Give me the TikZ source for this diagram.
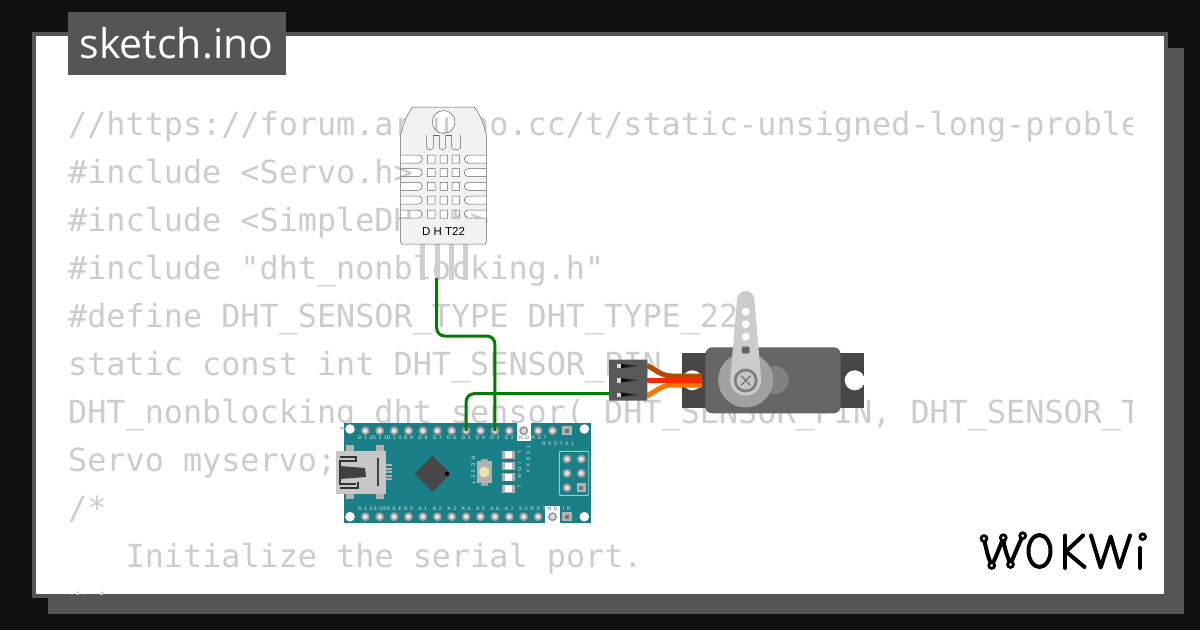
\documentclass[tikz,border=0pt]{standalone}
\usepackage{fontspec}
\setmainfont{Liberation Sans}
\newfontfamily\codefont{DejaVu Sans Mono}
\newfontfamily\titlefont{Open Sans}
\newfontfamily\silkfont[WordSpace=1.9]{Liberation Sans}
\usetikzlibrary{calc,shadings}
\definecolor{bgdark}{HTML}{111111}
\definecolor{panelgray}{HTML}{555555}
\definecolor{codegray}{HTML}{CCCCCC}
\definecolor{nanoteal}{HTML}{1A7F87}
\definecolor{wiregreen}{HTML}{007C00}
\tikzset{
  x=1pt,y=-1pt,
  codeline/.style={anchor=base west,inner sep=0pt,text=codegray,font=\codefont\fontsize{31.8}{32}\selectfont},
  wire/.style={draw=wiregreen,line width=3pt,rounded corners=8pt},
  dhtline/.style={draw=black!60,line width=0.5pt},
  silk/.style={inner sep=0pt,text=white!88!nanoteal,font=\silkfont\fontsize{5}{6}\selectfont},
  logo/.style={draw=black,line width=4pt,line cap=round,line join=round},
  logoring/.style={draw=black,line width=2.8pt,fill=white},
}
\newcommand{\nanopin}[2]{\fill[black!40] (#1,#2) circle[radius=4.5];\fill[black!12] (#1,#2) circle[radius=2.5];}
\begin{document}
\begin{tikzpicture}
\useasboundingbox (0,0) rectangle (1200,630);
\fill[bgdark] (0,0) rectangle (1200,630);
\fill[panelgray] (48,48) rectangle (1184,614);
\fill[panelgray] (32,32) rectangle (1168,598);
\fill[white] (36,36) rectangle (1164,594);
% code
\begin{scope}
\clip (36,36) rectangle (1132,594);
\node[codeline] (c1) at (68,135) {//https://forum.arduino.cc/t/static-unsigned-long-proble};
\node[codeline] (c2) at (68,183) {\#include <Servo.h>};
\node[codeline] (c3) at (68,231) {\#include <SimpleDHT.h>};
\node[codeline] (c4) at (68,279) {\#include "dht\_nonblocking.h"};
\node[codeline] (c5) at (68,327) {\#define DHT\_SENSOR\_TYPE DHT\_TYPE\_22};
\node[codeline] (c6) at (68,375) {static const int DHT\_SENSOR\_PIN = 2;};
\node[codeline] (c7) at (68,423) {DHT\_nonblocking dht\_sensor( DHT\_SENSOR\_PIN, DHT\_SENSOR\_T};
\node[codeline] (c8) at (68,471) {Servo myservo;};
\node[codeline] (c9) at (68,519) {/*};
\node[codeline] (c10) at (125.5,567) {Initialize the serial port.};
\node[codeline] (c11) at (68,615) {*/};
\end{scope}
% title
\fill[panelgray] (68,12) rectangle (286,75);
\node[inner sep=0pt,text=white,font=\titlefont\fontsize{41}{41}\selectfont,anchor=base] (title) at (176.5,58) {sketch.ino};
% DHT22 pins
\foreach \px in {422.5,437.5,451.5,465.5}{\fill[black!20,opacity=.9] (\px-2.5,243) rectangle (\px+2.5,280);}
% DHT22 body, its openings let the code show through
\path[dhtline,fill=black!5,even odd rule]
  (400.7,135) .. controls (403,124) and (408,112) .. (413,107) -- (474,107) .. controls (479,112) and (484,124) .. (486.3,135)
  -- (486.3,242.5) -- (485,244) -- (402,244) -- (400.7,242.5) -- cycle
  (443.6,110.6) arc[start angle=270,end angle=-90,radius=11.4]
  \foreach \ry in {159,172.7,186.3,200,214}{
    (400.7,\ry-4) -- (418.3,\ry-4) arc[start angle=-90,end angle=90,radius=4] -- (400.7,\ry+4) -- cycle
    (486.3,\ry-4) -- (468.3,\ry-4) arc[start angle=-90,end angle=-270,radius=4] -- (486.3,\ry+4) -- cycle
    (427.3,\ry-4) rectangle (435,\ry+4)
    (440,\ry-4) rectangle (447.7,\ry+4)
    (452,\ry-4) rectangle (459.7,\ry+4)
  };
\draw[dhtline,rounded corners=2pt] (426.7,135) -- (426.7,149.3) -- (433.3,149.3) -- (433.3,135);
\draw[dhtline,rounded corners=2pt] (439.3,135) -- (439.3,149.3) -- (445.7,149.3) -- (445.7,135);
\draw[dhtline,rounded corners=2pt] (451.7,135) -- (451.7,149.3) -- (460.7,149.3) -- (460.7,135);
\draw[dhtline] (433.3,135) -- (439.3,135) (445.7,135) -- (451.7,135);
\node[inner sep=0pt,text=black,font=\fontsize{11.5}{12}\selectfont] (dhtlabel) at (443.6,231.7) {D H T22};
% wires' ends
\coordinate (dhtsda) at (436.7,278);
\coordinate (nanoDfive) at (466.1,431);
\coordinate (nanoDthree) at (494.9,431);
\coordinate (servopwm) at (612,393.7);
% nano board
\fill[nanoteal] (344,423.3) rectangle (591,523.3);
\foreach \hx/\hy in {350/429,584.3/429,350/516.7,584.3/516.7}{\fill[white] (\hx,\hy) circle[radius=4.8];}
\fill[white] (517,423.3) rectangle (531,441);
\fill[white] (545.3,506) rectangle (560,523.3);
\foreach \i in {0,...,14}{
  \pgfmathsetmacro{\px}{365.3+14.4*\i}
  \ifnum\i=14
    \fill[black!30] (\px-4.6,426.1) rectangle (\px+4.6,435.3);
    \fill[black!55!white] (\px-2,428.7) rectangle (\px+2,432.7);
    \fill[black!30] (\px-4.6,512.1) rectangle (\px+4.6,521.3);
    \fill[black!55!white] (\px-2,514.7) rectangle (\px+2,518.7);
  \else
    \nanopin{\px}{430.7}
    \nanopin{\px}{516.7}
  \fi
}
\foreach \t/\lx in {D 1 2/365.3,D 1 1/379.7,D 1 0/394.1,D 9/408.5,D 8/422.9,D 7/437.3,D 6/451.7,D 5/466.1,D 4/480.5,D 3/494.9,D 2/509.3,R S T/539}{
  \node[silk] at (\lx,438.2) {\t};
}
\node[silk,text=nanoteal] (gndtop) at (524,438.2) {N D};
\node[silk] (rxzero) at (549.5,443.5) {R X 0};
\node[silk] (txone) at (567,443.5) {T X 1};
\foreach \t/\lx in {D 1 3/365.3,3 V3/379.7,R E F/394.1,A 0/408.5,A 1/422.9,A 2/437.3,A 3/451.7,A 4/466.1,A 5/480.5,A 6/494.9,A 7/509.3,5 V/523.7,R S T/538.1,I N/566.9}{
  \node[silk] at (\lx,508.7) {\t};
}
\node[silk,text=nanoteal] (gndbot) at (552.5,508.7) {N D};
% usb
\fill[black!30] (346,445) rectangle (354,451);
\fill[black!30] (375.5,445) rectangle (384,451);
\fill[black!30] (346,493) rectangle (354,499);
\fill[black!30] (375.5,493) rectangle (384,499);
\foreach \uy in {465,468.5,472,475.5,479}{\fill[black!30] (386,\uy-1) rectangle (391.5,\uy+1);}
\fill[black!22] (336,450.7) rectangle (386,494);
\draw[black!75,line width=1.4pt] (378,458) -- (378,486);
\draw[black!80,line width=1.4pt] (340,457) -- (356,457) -- (356,461) -- (340,461) -- (340,484) -- (356,484);
\fill[black!75] (340,466) -- (365,468) -- (366,477) -- (340,479) -- cycle;
\draw[black!80,line width=1.4pt] (340,488) -- (358,488) -- (358,482);
% mcu
\fill[black!72] (432.7,455.7) -- (450.7,473.7) -- (432.7,491.7) -- (414.7,473.7) -- cycle;
\fill[black] (447,473.7) circle[radius=2.1];
% reset
\fill[black!35] (481,458.6) rectangle (488,485.6);
\fill[black!30] (477.3,461) rectangle (491.7,483.3);
\fill[yellow!30!white!90!black] (484.3,472) circle[radius=5.3];
\node[silk,rotate=-90] (resetlabel) at (473.3,470.5) {R E S E T};
% leds
\foreach \ly in {454.7,466,477.3,488.7}{
  \fill[black!30] (501.5,\ly-4) rectangle (514.5,\ly+4);
  \fill[white] (504.5,\ly-3.4) rectangle (511.5,\ly+3.4);
}
\node[silk,rotate=-90] (ledl) at (519.5,453) {L};
\node[silk,rotate=-90] (ledt) at (519.5,463) {/};
\node[silk,rotate=-90] (ledon) at (519.5,473) {O N};
\node[silk,rotate=-90] (ledlb) at (519.5,487) {L};
\node[silk,rotate=-90] (ledtx) at (528,459) {T X R X X};
% icsp
\draw[teal!40!white,line width=.9pt,rounded corners=1pt] (559.3,451.3) rectangle (588.7,495.3);
\foreach \qx/\qy in {567/459,581.3/459,567/473.3,581.3/473.3,567/487.7}{\nanopin{\qx}{\qy}}
\fill[black!30] (576.7,483.1) rectangle (585.9,492.3);
\fill[black!55!white] (579.3,485.7) rectangle (583.3,489.7);
% servo
\fill[black!72] (682.3,353) rectangle (864.3,407.7);
\fill[white] (692.3,380.3) circle[radius=10];
\fill[white] (854.7,380.3) circle[radius=10];
\fill[black!60,rounded corners=7pt] (705.3,347.3) rectangle (840.7,413.3);
\fill[black!50] (774.7,380) circle[radius=14];
\fill[black!37] (745.7,380) circle[radius=27.5];
% horn
\fill[black!20] (737,299.7) arc[start angle=180,end angle=360,radius=8.7] -- (761.2,380) arc[start angle=0,end angle=180,radius=15.5] -- cycle;
\foreach \hy in {311.7,324.3,336.7}{\fill[white] (745.7,\hy) circle[radius=4];}
\fill[black!60,rounded corners=2pt] (741.7,346.5) rectangle (749.7,353.5);
\fill[black!50] (745.7,380.5) circle[radius=12];
\fill[black!22] (745.7,380.5) circle[radius=9];
\draw[black!55,line width=1.2pt] (741,375.8) -- (750.4,385.2) (741,385.2) -- (750.4,375.8);
% green wires
\draw[wire] (dhtsda) -- (dhtsda |- 0,336) -- (nanoDthree |- 0,336) -- (nanoDthree);
\draw[wire] (nanoDfive) -- (nanoDfive |- servopwm) -- (servopwm);
% servo cables and connector
\draw[draw={rgb,255:red,176;green,76;blue,0},line width=5pt] (647,365.5) .. controls (658,371) and (662,376) .. (672,376) -- (702,376);
\draw[draw={rgb,255:red,255;green,119;blue,0},line width=5pt] (647,396) .. controls (658,390) and (662,385) .. (672,385) -- (702,385);
\draw[draw={rgb,255:red,255;green,40;blue,0},line width=5pt] (647,380.5) -- (702,380.5);
\fill[black!65,rounded corners=1pt] (609,359.7) rectangle (647.3,400.7);
\foreach \cy in {366,380.3,394.7}{
  \shade[left color=black,right color=black!65] (620,\cy-2.2) -- (642,\cy) -- (620,\cy+2.2) -- cycle;
  \fill[black!15] (617,\cy-2.2) rectangle (621.4,\cy+2.2);
}
% logo
\draw[logo] (984,539) .. controls (986,548) and (988,558) .. (991.7,565) .. controls (996,558) and (999,548) .. (1003.3,538) .. controls (1004,547) and (1007,556) .. (1010.5,564) .. controls (1014,556) and (1018,546) .. (1022.7,536);
\foreach \rx/\ry in {984/538.5,1003.3/537.7,1022.7/535.7,991.7/565.5,1010.5/564.5}{\draw[logoring] (\rx,\ry) circle[radius=2.9];}
\draw[logo] (1039.5,551) ellipse[x radius=11,y radius=16];
\draw[logo] (1065,535.5) -- (1065,568);
\draw[logo] (1083,535.5) -- (1066,551.5) -- (1084.5,567);
\draw[logo] (1091,535.5) -- (1100.7,567.5) -- (1110.7,536.5) -- (1119.5,567.5) -- (1130,535.5);
\draw[logo] (1140,548) -- (1140,568);
\draw[logoring] (1142.7,536.7) circle[radius=2.8];
\end{tikzpicture}
\end{document}
